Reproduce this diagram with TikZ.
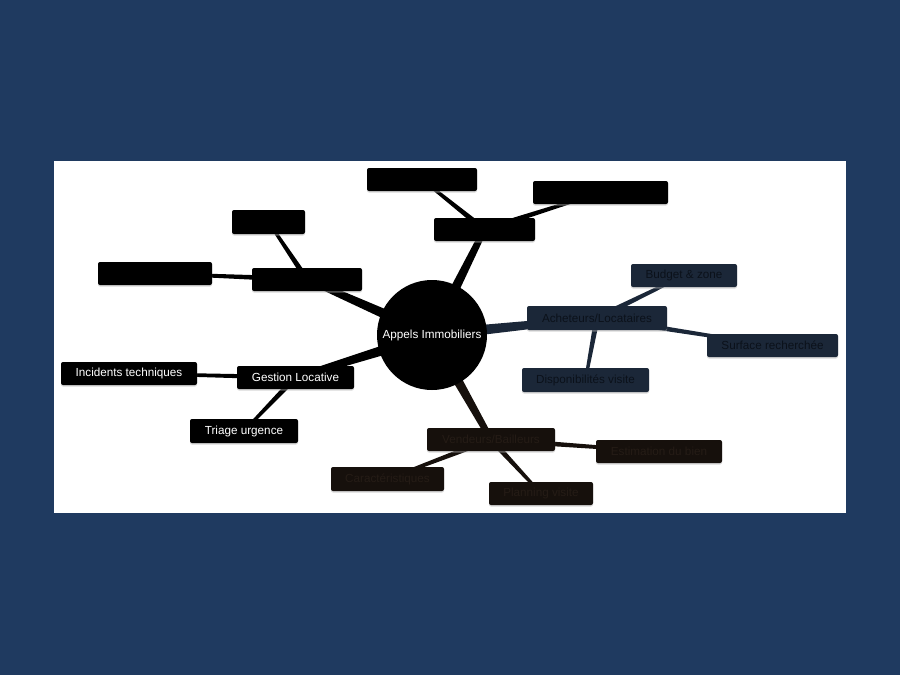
\documentclass[tikz,border=0pt]{standalone}
\usepackage{fontspec}
\setmainfont{Liberation Sans}
\usetikzlibrary{calc,shadows}
\definecolor{bgnavy}{HTML}{1F3A60}
\definecolor{boxnavy}{HTML}{1B2738}
\definecolor{txtnavy}{HTML}{0B111A}
\definecolor{boxbrown}{HTML}{16100C}
\definecolor{txtbrown}{HTML}{251C16}
\pgfdeclarelayer{back}
\pgfdeclarelayer{links}
\pgfsetlayers{back,links,main}
\newcommand\taper[5]{\fill[#5] ($(#1)!#3!90:(#2)$) -- ($(#2)!#4!-90:(#1)$) -- ($(#2)!#4!90:(#1)$) -- ($(#1)!#3!-90:(#2)$) -- cycle;}
\tikzset{
  box/.style={rectangle, rounded corners=2pt, inner sep=0pt, minimum height=23pt,
    font=\fontsize{11.7}{13}\selectfont,
    drop shadow={shadow xshift=0pt, shadow yshift=-1.5pt, fill=black!30, opacity=0.5}},
  bblack/.style={box, fill=black, text=white},
  bnavy/.style={box, fill=boxnavy, text=txtnavy},
  bbrown/.style={box, fill=boxbrown, text=txtbrown},
}
\begin{document}
\begin{tikzpicture}[x=1pt,y=-1pt]
\useasboundingbox (0,0) rectangle (900,675);
\begin{pgfonlayer}{back}
\fill[bgnavy] (0,0) rectangle (900,675);
\fill[white] (54,161) rectangle (846,513);
\end{pgfonlayer}

\node[circle, fill=black, minimum size=110pt, inner sep=0pt, text=white,
  font=\fontsize{11.7}{13}\selectfont] (c) at (432,335) {Appels Immobiliers};

% top branch
\node[bblack, minimum width=101pt] (t) at (484.5,229.5) {};
\node[bblack, minimum width=110pt] (t1) at (422,179.5) {};
\node[bblack, minimum width=135pt] (t2) at (600.5,192.5) {};
% left-top branch
\node[bblack, minimum width=110pt] (l) at (307,279.5) {};
\node[bblack, minimum width=73pt, minimum height=24pt] (l1) at (268.5,222) {};
\node[bblack, minimum width=114pt] (l2) at (155,273.5) {};
% gestion
\node[bblack, minimum width=117pt] (g) at (295.5,377.5) {Gestion Locative};
\node[bblack, minimum width=136pt] (g1) at (129,373.5) {Incidents techniques};
\node[bblack, minimum width=108pt, minimum height=24pt] (g2) at (244,431) {Triage urgence};
% acheteurs
\node[bnavy, minimum width=140pt, minimum height=24pt] (a) at (597,318) {Acheteurs/Locataires};
\node[bnavy, minimum width=106pt] (a1) at (684,275.5) {Budget \& zone};
\node[bnavy, minimum width=131pt] (a2) at (772.5,345.5) {Surface recherchée};
\node[bnavy, minimum width=127pt, minimum height=24pt] (a3) at (585.5,380) {Disponibilités visite};
% vendeurs
\node[bbrown, minimum width=128pt] (v) at (491,439.5) {Vendeurs/Bailleurs};
\node[bbrown, minimum width=126pt] (v1) at (659,451.5) {Estimation du bien};
\node[bbrown, minimum width=104pt] (v2) at (541,493.5) {Planning visite};
\node[bbrown, minimum width=113pt, minimum height=24pt] (v3) at (387.5,479) {Caractéristiques};

\begin{pgfonlayer}{links}
\taper{c}{t}{5.8pt}{3pt}{black}
\taper{c}{l}{5.8pt}{3pt}{black}
\taper{c}{g}{5.8pt}{3pt}{black}
\taper{c}{a}{5.8pt}{3pt}{boxnavy}
\taper{c}{v}{5.8pt}{3pt}{boxbrown}
\taper{t}{t1}{2.8pt}{1.4pt}{black}
\taper{t}{t2}{2.8pt}{1.4pt}{black}
\taper{l}{l1}{2.8pt}{1.4pt}{black}
\taper{l}{l2}{2.8pt}{1.4pt}{black}
\taper{g}{g1}{2.4pt}{1.4pt}{black}
\taper{g}{g2}{2.8pt}{1.4pt}{black}
\taper{a}{a1}{2.8pt}{1.4pt}{boxnavy}
\taper{a}{a2}{2.8pt}{1.4pt}{boxnavy}
\taper{a}{a3}{2.8pt}{1.4pt}{boxnavy}
\taper{v}{v1}{2.8pt}{1.4pt}{boxbrown}
\taper{v}{v2}{2.8pt}{1.4pt}{boxbrown}
\taper{v}{v3}{2.8pt}{1.4pt}{boxbrown}
\end{pgfonlayer}
\end{tikzpicture}
\end{document}
